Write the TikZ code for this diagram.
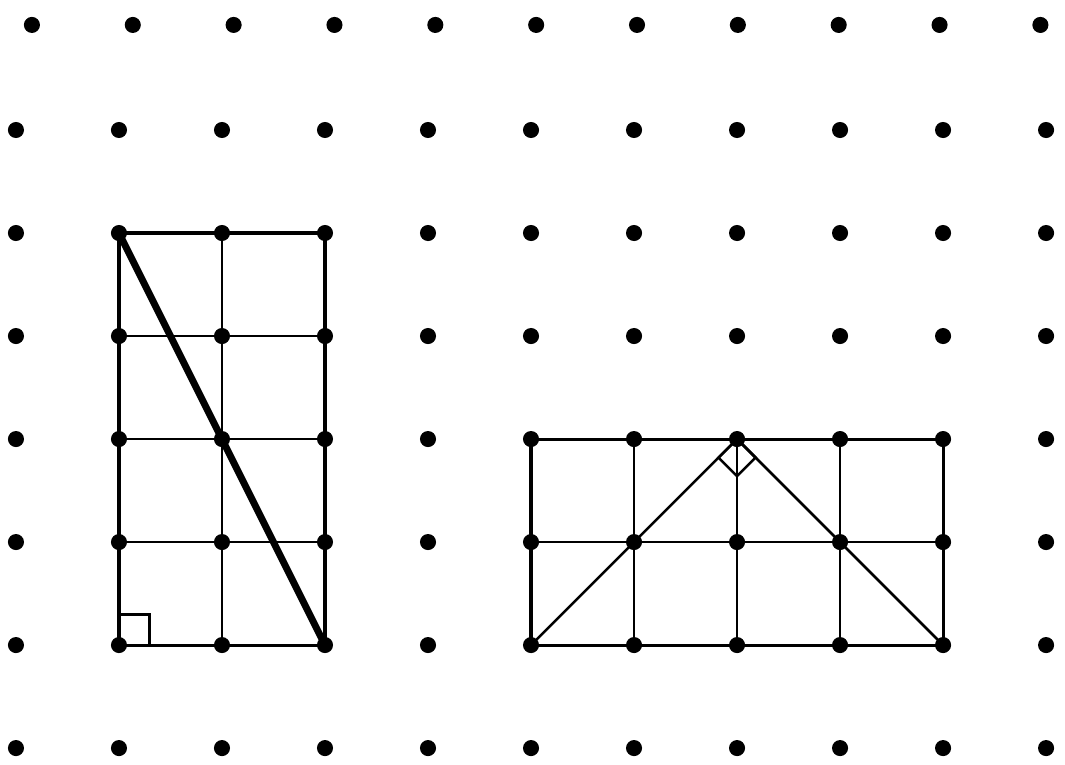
\documentclass[tikz,border=0pt]{standalone}
\usepackage{tikz}
\usetikzlibrary{calc}
\tikzset{
  griddot/.style={fill=black},
  outline/.style={line width=0.85pt},
  thinline/.style={line width=0.45pt},
}
\begin{document}
\begin{tikzpicture}
            \useasboundingbox (-0.155,-0.155) rectangle (10.184,7.262);

            % left rectangle, 2 by 4
            \coordinate (left bl) at (1,1);
            \coordinate (left tr) at (3,5);
            \draw [thinline] (2,1)--(2,5);
            \foreach \y in {2,3,4} \draw [thinline] (1,\y)--(3,\y);
            \draw [outline] (left bl) rectangle (left tr);
            \draw [line width=0.8pt] (left bl) rectangle ++(0.3,0.3);
            \draw [line width=1.9pt] (1,5)--(3,1);

            % right rectangle, 4 by 2
            \coordinate (right bl) at (5,1);
            \coordinate (right tr) at (9,3);
            \coordinate (apex) at (7,3);
            \foreach \x in {6,7,8} \draw [thinline] (\x,1)--(\x,3);
            \draw [thinline] (5,2)--(9,2);
            \draw [outline] (right bl) rectangle (right tr);
            \draw [line width=0.7pt] (right bl)--(apex)--(9,1);
            \draw [line width=0.7pt] (apex)--++(-0.18,-0.18)--++(0.18,-0.18)--++(0.18,0.18)--cycle;

            % dots
            \foreach \x in {0,...,10}
                \foreach \y in {0,...,6}
                    \fill [griddot] (\x,\y) circle [radius=0.078];
            \foreach \x in {0,...,10}
                \fill [griddot] (0.155+0.979*\x,7.02) circle [radius=0.078];
        \end{tikzpicture}
\end{document}
